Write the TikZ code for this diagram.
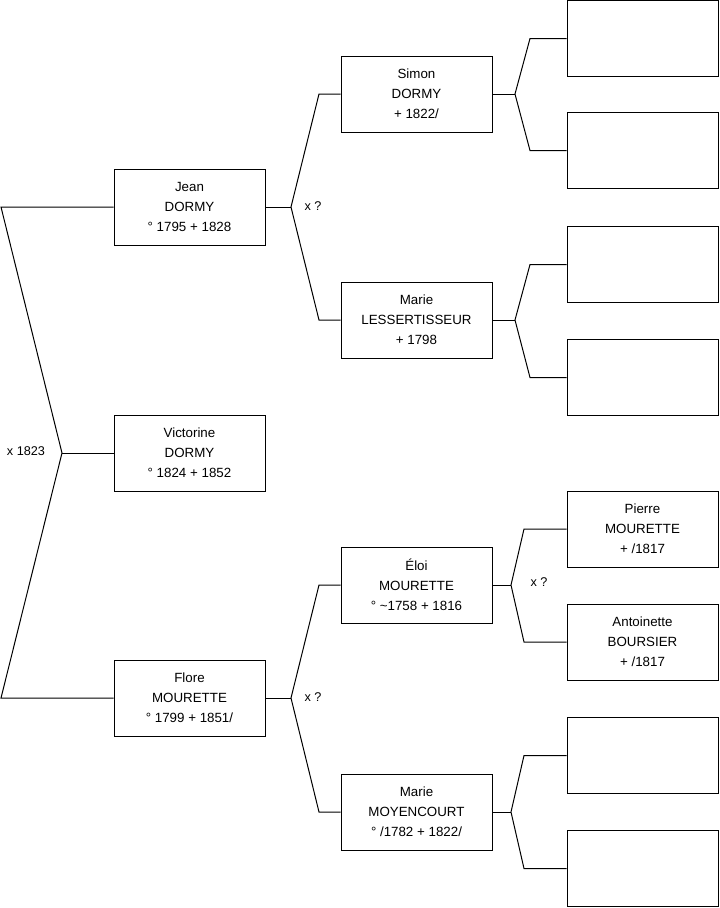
\documentclass[tikz,border=0pt]{standalone}
\usepackage{fontspec}
\setmainfont{Liberation Sans}
\usepackage{tikz}

\begin{document}
\begin{tikzpicture}[x=0.75pt, y=-0.75pt, line width=0.75pt,
    person/.style={draw, rectangle, minimum width=113.25pt, minimum height=57pt,
        inner sep=0pt, align=center, font=\fontsize{10}{15}\selectfont},
    union/.style={font=\fontsize{9.5}{11}\selectfont}]
        \useasboundingbox (0,0) rectangle (719,908);

        % generation 1 and 2
        \node[person] (p1) at (189.5,453) {Victorine\\DORMY\\° 1824 + 1852};
        \node[person] (p2) at (189.5,207) {Jean\\DORMY\\° 1795 + 1828};
        \node[person] (p3) at (189.5,698) {Flore\\MOURETTE\\° 1799 + 1851/};

        % generation 3
        \node[person] (p4) at (416.5,94)  {Simon\\DORMY\\+ 1822/};
        \node[person] (p5) at (416.5,320) {Marie\\LESSERTISSEUR\\+ 1798};
        \node[person] (p6) at (416.5,585) {Éloi\\MOURETTE\\° \textasciitilde1758 + 1816};
        \node[person] (p7) at (416.5,812) {Marie\\MOYENCOURT\\° /1782 + 1822/};

        % generation 4
        \node[person] (p8)  at (642.5,38.5)  {};
        \node[person] (p9)  at (642.5,150.5) {};
        \node[person] (p10) at (642.5,264.5) {};
        \node[person] (p11) at (642.5,377.5) {};
        \node[person] (p12) at (642.5,529)   {Pierre\\MOURETTE\\+ /1817};
        \node[person] (p13) at (642.5,642)   {Antoinette\\BOURSIER\\+ /1817};
        \node[person] (p14) at (642.5,755.5) {};
        \node[person] (p15) at (642.5,868.5) {};

        % forks
        \coordinate (v1) at (62,453);
        \coordinate (v2) at (291,207);
        \coordinate (v3) at (291,698);
        \coordinate (v4) at (515,94);
        \coordinate (v5) at (515,320);
        \coordinate (v6) at (511,585);
        \coordinate (v7) at (511,812);

        \draw (p2.west) -- (p2.west -| 1,0) -- (v1) -- (p3.west -| 1,0) -- (p3.west);
        \draw (v1) -- (p1.west);

        \draw (p2.east) -- (v2);
        \draw (p4.west) -- (p4.west -| 319,0) -- (v2) -- (p5.west -| 319,0) -- (p5.west);
        \draw (p3.east) -- (v3);
        \draw (p6.west) -- (p6.west -| 319,0) -- (v3) -- (p7.west -| 319,0) -- (p7.west);

        \draw (p4.east) -- (v4);
        \draw (p8.west) -- (p8.west -| 530,0) -- (v4) -- (p9.west -| 530,0) -- (p9.west);
        \draw (p5.east) -- (v5);
        \draw (p10.west) -- (p10.west -| 530,0) -- (v5) -- (p11.west -| 530,0) -- (p11.west);
        \draw (p6.east) -- (v6);
        \draw (p12.west) -- (p12.west -| 524,0) -- (v6) -- (p13.west -| 524,0) -- (p13.west);
        \draw (p7.east) -- (v7);
        \draw (p14.west) -- (p14.west -| 524,0) -- (v7) -- (p15.west -| 524,0) -- (p15.west);

        % marriages
        \node[union] (m1) at (26,451)  {x 1823};
        \node[union] (m2) at (313,206) {x ?};
        \node[union] (m3) at (313,697) {x ?};
        \node[union] (m6) at (539,582) {x ?};
\end{tikzpicture}
\end{document}
